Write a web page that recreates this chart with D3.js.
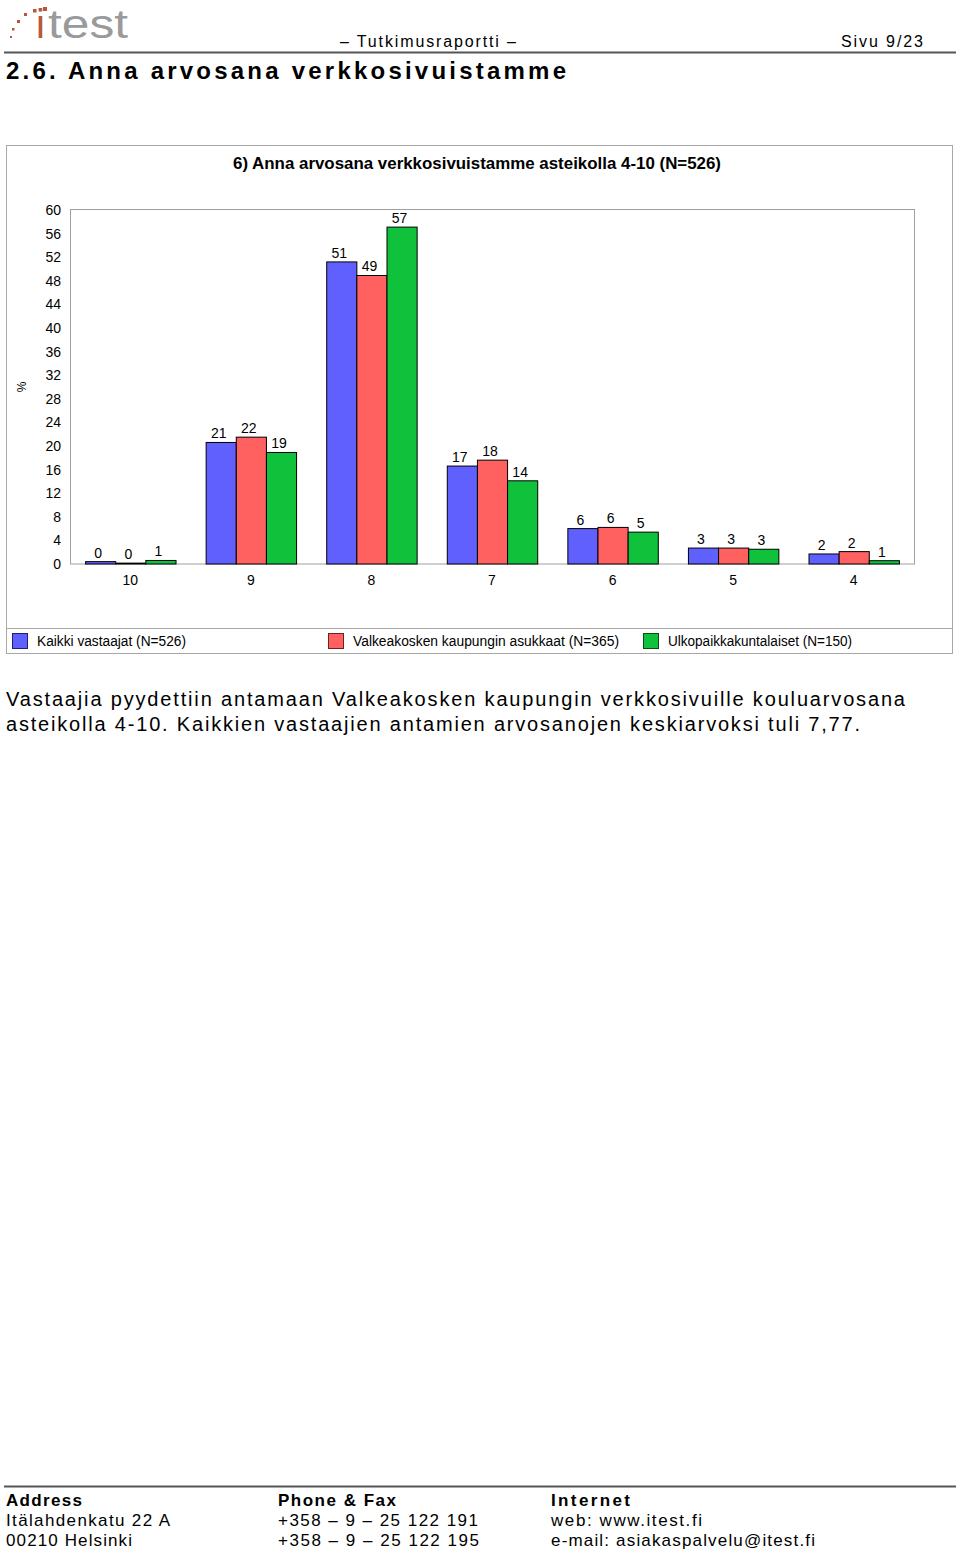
<!DOCTYPE html>
<html><head><meta charset="utf-8">
<script src="https://cdn.jsdelivr.net/npm/d3@7"></script>
<style>body{margin:0;background:#fff;}svg{display:block;}</style>
</head><body>
<svg id="page" width="960" height="1554"></svg>
<script>
const categories = ["10","9","8","7","6","5","4"];
const seriesNames = ["Kaikki vastaajat (N=526)","Valkeakosken kaupungin asukkaat (N=365)","Ulkopaikkakuntalaiset (N=150)"];
const seriesColors = ["#6060ff","#ff6060","#10c13c"];
const legendBorders = ["#202070","#702020","#104a18"];
const kaikki = [0.4,20.6,51.2,16.6,6.0,2.7,1.7];
const valkeakoski = [0.15,21.5,48.9,17.6,6.2,2.7,2.1];
const ulko = [0.6,18.9,57.1,14.1,5.4,2.5,0.56];
const yTicks = [0,4,8,12,16,20,24,28,32,36,40,44,48,52,56,60];
const series = [kaikki, valkeakoski, ulko];

const svg = d3.select("#page");
const pageFont = "Liberation Sans, Arial, sans-serif";

// Logo
const logo = svg.append("g");
[[10,36,2],[12,28,2.5],[17,20,3],[24,13,3],[33,9,3.5],[43,7,4]].forEach(d=>{
  logo.append("rect").attr("x",d[0]).attr("y",d[1]).attr("width",d[2]).attr("height",d[2]).attr("fill","#b8583a");
});
logo.append("text").attr("x",36).attr("y",38).attr("font-family",pageFont).attr("font-size",40)
  .attr("fill","#b8583a").text("i");
logo.append("text").attr("x",48).attr("y",38).attr("font-family",pageFont).attr("font-size",40)
  .attr("fill","#9a9a9a").attr("textLength",80).attr("lengthAdjust","spacingAndGlyphs").text("test");

// Header
svg.append("text").attr("x",340).attr("y",47).attr("font-family",pageFont).attr("font-size",16)
  .attr("textLength",176).attr("lengthAdjust","spacing").text("– Tutkimusraportti –");
svg.append("text").attr("x",841).attr("y",47).attr("font-family",pageFont).attr("font-size",16)
  .attr("textLength",82).attr("lengthAdjust","spacing").text("Sivu 9/23");
svg.append("line").attr("x1",4).attr("x2",956).attr("y1",52.5).attr("y2",52.5).attr("stroke","#555").attr("stroke-width",2);
svg.append("text").attr("x",6).attr("y",79).attr("font-family",pageFont).attr("font-size",24).attr("font-weight","bold")
  .attr("textLength",560).attr("lengthAdjust","spacing").text("2.6. Anna arvosana verkkosivuistamme");

// Chart frame
svg.append("rect").attr("x",6.5).attr("y",145.5).attr("width",946).attr("height",508).attr("fill","#fff").attr("stroke","#a8a8a8");
svg.append("line").attr("x1",6.5).attr("x2",952.5).attr("y1",628.5).attr("y2",628.5).attr("stroke","#a8a8a8");

const chartFont = "Liberation Sans, Arial, sans-serif";
svg.append("text").attr("x",477).attr("y",169).attr("text-anchor","middle").attr("font-family",chartFont)
  .attr("font-size",17).attr("font-weight","bold").attr("textLength",488).attr("lengthAdjust","spacingAndGlyphs")
  .text("6) Anna arvosana verkkosivuistamme asteikolla 4-10 (N=526)");

const plot = {left:70, right:914, top:210, bottom:564};
const x0 = d3.scaleBand().domain(categories).range([plot.left, plot.right]).paddingInner(0.25).paddingOuter(0.125);
const x1 = d3.scaleBand().domain([0,1,2]).range([0, x0.bandwidth()]);
const y = d3.scaleLinear().domain([0,60]).range([plot.bottom, plot.top]);

// plot frame
svg.append("rect").attr("x",plot.left+0.5).attr("y",plot.top-0.5).attr("width",plot.right-plot.left).attr("height",plot.bottom-plot.top+0.5)
  .attr("fill","none").attr("stroke","#a0a0a0");

// y axis
const yAxis = d3.axisLeft(y).tickValues(yTicks).tickSize(0).tickPadding(9);
const yg = svg.append("g").attr("transform",`translate(${plot.left},0)`).call(yAxis);
yg.select(".domain").remove();
yg.selectAll("text").attr("font-family",chartFont).attr("font-size",14).attr("fill","#000");

svg.append("text").attr("transform","translate(26,387) rotate(-90)").attr("text-anchor","middle")
  .attr("font-family",chartFont).attr("font-size",12).text("%");

// x axis
const xAxis = d3.axisBottom(x0).tickSize(0).tickPadding(11);
const xg = svg.append("g").attr("transform",`translate(0,${plot.bottom})`).call(xAxis);
xg.select(".domain").remove();
xg.selectAll("text").attr("font-family",chartFont).attr("font-size",14).attr("fill","#000");

// bars
const groups = svg.append("g").selectAll("g").data(categories).join("g")
  .attr("transform",c=>`translate(${x0(c)},0)`);
groups.each(function(c,ci){
  const g = d3.select(this);
  series.forEach((s,si)=>{
    const v = s[ci];
    g.append("rect").attr("x",x1(si)+0.5).attr("y",y(v)).attr("width",x1.bandwidth())
      .attr("height",Math.max(0,y(0)-y(v))).attr("fill",seriesColors[si]).attr("stroke","#000").attr("stroke-width",1);
    g.append("text").attr("x",x1(si)+x1.bandwidth()/2-2).attr("y",y(v)-4).attr("text-anchor","middle")
      .attr("font-family",chartFont).attr("font-size",14).text(Math.round(v));
  });
});

// legend
const legX = [12,328,643];
seriesNames.forEach((n,i)=>{
  svg.append("rect").attr("x",legX[i]+0.5).attr("y",633.5).attr("width",15).attr("height",15)
    .attr("fill",seriesColors[i]).attr("stroke",legendBorders[i]);
  svg.append("text").attr("x",legX[i]+25).attr("y",646).attr("font-family",chartFont).attr("font-size",14)
    .attr("textLength",[149,266,184][i]).attr("lengthAdjust","spacingAndGlyphs").text(n);
});

// paragraph
svg.append("text").attr("x",6).attr("y",706).attr("font-family",pageFont).attr("font-size",20)
  .attr("textLength",899).attr("lengthAdjust","spacing")
  .text("Vastaajia pyydettiin antamaan Valkeakosken kaupungin verkkosivuille kouluarvosana");
svg.append("text").attr("x",6).attr("y",731).attr("font-family",pageFont).attr("font-size",20)
  .attr("textLength",854).attr("lengthAdjust","spacing")
  .text("asteikolla 4-10. Kaikkien vastaajien antamien arvosanojen keskiarvoksi tuli 7,77.");

// footer
svg.append("line").attr("x1",4).attr("x2",956).attr("y1",1486.5).attr("y2",1486.5).attr("stroke","#555").attr("stroke-width",2);
const footer = [
  [6, ["Address","Itälahdenkatu 22 A","00210 Helsinki"],[76,164,126]],
  [278, ["Phone & Fax","+358 – 9 – 25 122 191","+358 – 9 – 25 122 195"],[118,200,201]],
  [551, ["Internet","web: www.itest.fi","e-mail: asiakaspalvelu@itest.fi"],[79,151,264]]
];
footer.forEach(col=>{
  col[1].forEach((t,i)=>{
    svg.append("text").attr("x",col[0]).attr("y",1506+i*20).attr("font-family",pageFont).attr("font-size",17)
      .attr("font-weight",i===0?"bold":"normal").attr("textLength",col[2][i]).attr("lengthAdjust","spacing").text(t);
  });
});
</script>
</body></html>
